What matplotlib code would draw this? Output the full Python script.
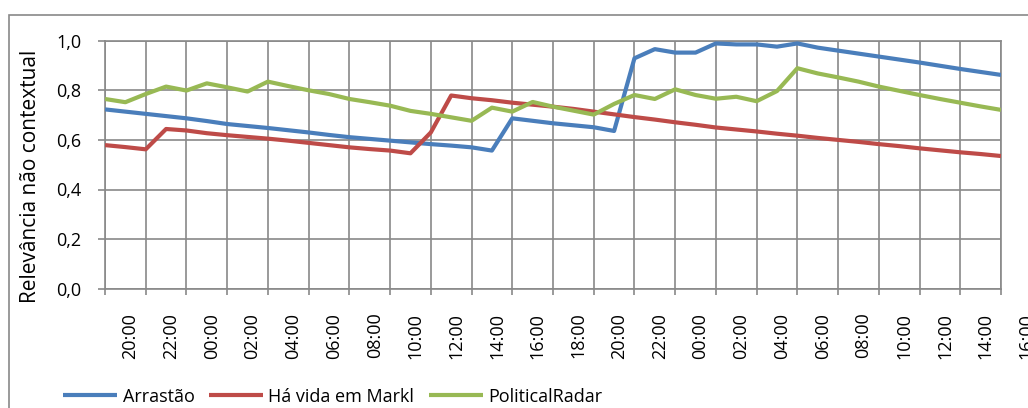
import matplotlib
matplotlib.use("Agg")
import matplotlib.pyplot as plt
from matplotlib.patches import Rectangle
from matplotlib.transforms import ScaledTranslation

# hourly readings, first point is 19:00
arrastao = [0.723, 0.714, 0.705, 0.696, 0.687, 0.676, 0.664, 0.656, 0.648, 0.639,
            0.630, 0.620, 0.611, 0.604, 0.597, 0.590, 0.583, 0.577, 0.570, 0.557,
            0.687, 0.677, 0.667, 0.659, 0.651, 0.636, 0.929, 0.966, 0.952, 0.952,
            0.989, 0.985, 0.985, 0.976, 0.989, 0.972, 0.960, 0.948, 0.936, 0.924,
            0.912, 0.899, 0.886, 0.874, 0.862]
ha_vida = [0.579, 0.571, 0.562, 0.644, 0.638, 0.627, 0.619, 0.612, 0.605, 0.597,
           0.588, 0.579, 0.570, 0.563, 0.557, 0.546, 0.630, 0.779, 0.768, 0.760,
           0.750, 0.742, 0.734, 0.725, 0.714, 0.703, 0.692, 0.682, 0.671, 0.661,
           0.650, 0.642, 0.634, 0.625, 0.617, 0.608, 0.600, 0.592, 0.583, 0.575,
           0.566, 0.558, 0.550, 0.543, 0.535]
political = [0.765, 0.752, 0.785, 0.815, 0.799, 0.828, 0.812, 0.795, 0.835, 0.817,
             0.800, 0.785, 0.765, 0.752, 0.738, 0.717, 0.705, 0.691, 0.677, 0.730,
             0.714, 0.753, 0.734, 0.718, 0.702, 0.745, 0.781, 0.765, 0.804, 0.781,
             0.766, 0.774, 0.756, 0.797, 0.889, 0.868, 0.852, 0.835, 0.815, 0.798,
             0.781, 0.765, 0.750, 0.735, 0.721]
series_names = ["Arrastão", "Há vida em Markl", "PoliticalRadar"]
hour_labels = ["20:00", "22:00", "00:00", "02:00", "04:00", "06:00", "08:00", "10:00",
               "12:00", "14:00", "16:00", "18:00", "20:00", "22:00", "00:00", "02:00",
               "04:00", "06:00", "08:00", "10:00", "12:00", "14:00", "16:00"]
y_ticks = [0.0, 0.2, 0.4, 0.6, 0.8, 1.0]

plt.rcParams['font.family'] = ['Open Sans', 'DejaVu Sans']
GRID = '#898989'
colors = ['#4A7EBB', '#BE4B48', '#98B954']

fig = plt.figure(figsize=(10.28, 4.08), dpi=100)
W, H = 1028, 408
ax = fig.add_axes([105 / W, 1 - 288.7 / H, 896 / W, 248 / H])

# outer chart frame (cut off at right/bottom like the source)
fig.add_artist(Rectangle((9.3 / W, -0.2), 1.5, 1.2 - 15 / H, transform=fig.transFigure,
                         fill=False, ec=GRID, lw=1.2))

x = list(range(len(arrastao)))
for vals, name, c in zip([arrastao, ha_vida, political], series_names, colors):
    ax.plot(x, vals, color=c, lw=3.0, label=name, solid_capstyle='butt', zorder=3)

n = len(arrastao) - 1
ax.set_xlim(0, n)
ax.set_ylim(0, 1)

# gridlines sit on the odd hours, labels on the even hours
ax.set_xticks(range(0, n + 1, 2))
ax.set_xticklabels([])
label_pos = list(range(1, n + 1, 2))
ax.set_xticks(label_pos, minor=True)
ax.set_xticklabels(hour_labels[:len(label_pos)], minor=True, rotation=90, fontsize=13)
ax.tick_params(axis='x', which='major', length=4.3, width=1.2, color=GRID, direction='out')
ax.tick_params(axis='x', which='minor', length=0, pad=17.3)

shift = ScaledTranslation(5 / 100, 0, fig.dpi_scale_trans)
for lbl in ax.xaxis.get_minorticklabels():
    lbl.set_transform(lbl.get_transform() + shift)

# the last label hangs past the plot edge
ax.annotate(hour_labels[-1], xy=(n + 1, 0), xycoords=('data', 'axes fraction'),
            xytext=(5 * 0.72, -17.3), textcoords='offset points', rotation=90,
            ha='center', va='top', fontsize=13, annotation_clip=False)

ax.set_yticks(y_ticks)
ax.set_yticklabels([f"{v:.1f}".replace('.', ',') for v in y_ticks], fontsize=13)
ax.tick_params(axis='y', length=5, width=1.2, color=GRID, pad=12, direction='out')

ax.grid(True, which='major', color=GRID, lw=1.2)
ax.set_axisbelow(True)
for s in ax.spines.values():
    s.set_color(GRID)
    s.set_linewidth(1.2)

fig.text(30.5 / W, 1 - 176 / H, "Relevância não contextual", rotation=90,
         ha='center', va='center', fontsize=15)

fig.legend(loc='center left', bbox_to_anchor=(63 / W, 1 - 396.5 / H), ncol=3,
           frameon=False, fontsize=13, handlelength=3.0, handletextpad=0.3,
           columnspacing=0.8, borderpad=0, borderaxespad=0)

fig.savefig("out.png", dpi=100)
